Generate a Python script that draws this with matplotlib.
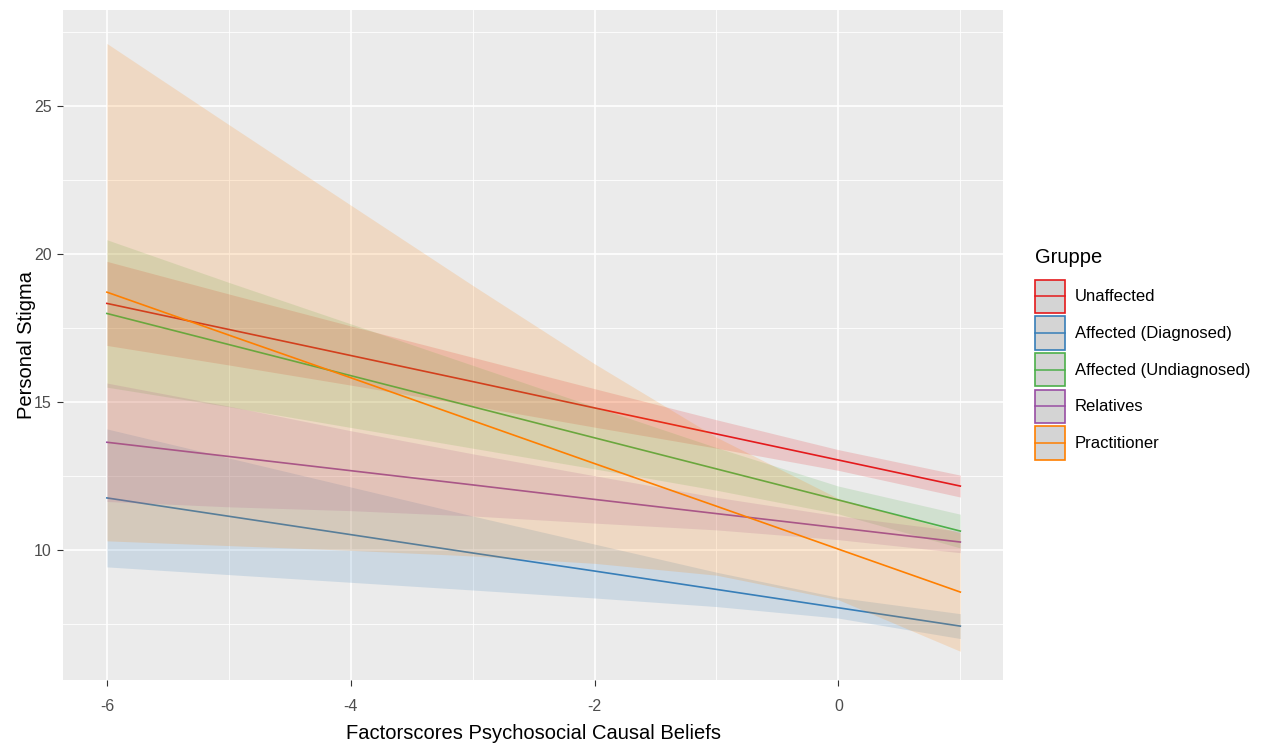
import matplotlib.pyplot as plt
from matplotlib.patches import Rectangle
from matplotlib.lines import Line2D
from matplotlib.legend_handler import HandlerBase

# Data
x = [-6, -5, -4, -3, -2, -1, 0, 1]
groups = ['Unaffected', 'Affected (Diagnosed)', 'Affected (Undiagnosed)', 'Relatives', 'Practitioner']
colors = ['#E41A1C', '#377EB8', '#4DAF4A', '#984EA3', '#FF7F00']

# fitted values of each group's regression line
fit_unaffected = [18.34, 17.46, 16.58, 15.70, 14.81, 13.93, 13.05, 12.17]
fit_diagnosed = [11.77, 11.15, 10.53, 9.91, 9.30, 8.68, 8.06, 7.44]
fit_undiagnosed = [18.00, 16.95, 15.90, 14.85, 13.80, 12.75, 11.70, 10.65]
fit_relatives = [13.65, 13.17, 12.69, 12.21, 11.72, 11.24, 10.76, 10.28]
fit_practitioner = [18.72, 17.27, 15.83, 14.38, 12.93, 11.49, 10.04, 8.59]

# half width of the confidence ribbons
ci_unaffected = [1.42, 1.20, 1.00, 0.82, 0.65, 0.48, 0.35, 0.37]
ci_diagnosed = [2.33, 1.97, 1.61, 1.25, 0.91, 0.58, 0.35, 0.42]
ci_undiagnosed = [2.49, 2.10, 1.75, 1.40, 1.05, 0.72, 0.47, 0.57]
ci_relatives = [2.00, 1.70, 1.35, 1.05, 0.80, 0.55, 0.40, 0.36]
ci_practitioner = [8.40, 7.11, 5.83, 4.57, 3.37, 2.33, 1.71, 2.00]

fits = [fit_unaffected, fit_diagnosed, fit_undiagnosed, fit_relatives, fit_practitioner]
cis = [ci_unaffected, ci_diagnosed, ci_undiagnosed, ci_relatives, ci_practitioner]

plt.rcParams['font.family'] = ['Liberation Sans', 'DejaVu Sans']
plt.rcParams['axes.unicode_minus'] = False


# ggplot-like legend key: grey box with coloured border and a line through it
class KeyHandler(HandlerBase):
    def create_artists(self, legend, orig_handle, xdescent, ydescent,
                       width, height, fontsize, trans):
        col = orig_handle.get_color()
        box = Rectangle((-xdescent, -ydescent), width, height, facecolor='#D4D4D4',
                        edgecolor=col, lw=1.2, transform=trans)
        ln = Line2D([-xdescent, -xdescent + width], [height / 2 - ydescent] * 2,
                    color=col, lw=1.1, transform=trans)
        return [box, ln]


fig = plt.figure(figsize=(12.62, 7.44), dpi=100)
ax = fig.add_axes([63 / 1262, 64 / 744, 940 / 1262, 670 / 744])
ax.set_facecolor('#EBEBEB')

# ribbons + lines, group by group like geom_smooth
handles = []
for i, (name, col, fit, ci) in enumerate(zip(groups, colors, fits, cis)):
    lo = [f - c for f, c in zip(fit, ci)]
    hi = [f + c for f, c in zip(fit, ci)]
    ax.fill_between(x, lo, hi, color=col, alpha=0.17, linewidth=0, zorder=2 + 2 * i)
    ax.plot(x, fit, color=col, lw=1.2, zorder=3 + 2 * i)
    handles.append(Line2D([], [], color=col))

ax.set_xlim(-6.36, 1.35)
ax.set_ylim(5.62, 28.25)
ax.set_xticks([-6, -4, -2, 0])
ax.set_xticks([-5, -3, -1, 1], minor=True)
ax.set_yticks([10, 15, 20, 25])
ax.set_yticks([7.5, 12.5, 17.5, 22.5, 27.5], minor=True)
ax.grid(which='major', color='white', lw=1.2)
ax.grid(which='minor', color='white', lw=0.6)
ax.set_axisbelow(True)
for s in ax.spines.values():
    s.set_visible(False)
ax.tick_params(which='major', length=4, width=0.8, color='#333333',
               labelsize=11.5, labelcolor='#4D4D4D')
ax.tick_params(axis='x', which='major', pad=10)
ax.tick_params(axis='y', which='major', pad=4)
ax.tick_params(which='minor', length=0)

ax.set_xlabel('Factorscores Psychosocial Causal Beliefs', fontsize=14.5, labelpad=7)
ax.set_ylabel('Personal Stigma', fontsize=14.5, labelpad=-1)

leg = ax.legend(handles, groups, handler_map={Line2D: KeyHandler()},
                title='Gruppe', loc='upper left',
                bbox_to_anchor=(1035 / 1262, 1 - 248 / 744), bbox_transform=fig.transFigure,
                frameon=False, fontsize=12, title_fontsize=14.5, alignment='left',
                handlelength=1.8, handleheight=2.7, labelspacing=0.2,
                handletextpad=0.6, borderpad=0, borderaxespad=0)
# a bit more room between legend title and keys
leg._legend_box.sep = 9

fig.savefig('out.png', dpi=100)
